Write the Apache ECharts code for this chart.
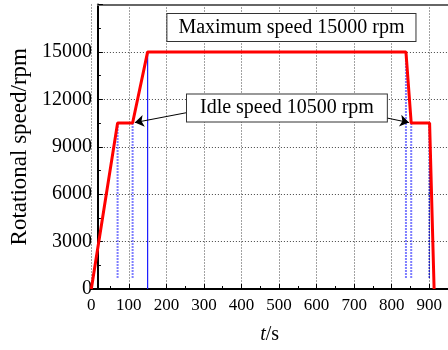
<!DOCTYPE html>
<html>
<head>
<meta charset="utf-8">
<script src="https://cdn.jsdelivr.net/npm/echarts@6/dist/echarts.min.js"></script>
<style>html,body{margin:0;padding:0;background:#fff}#c{width:448px;height:350px}</style>
</head>
<body>
<div id="c"></div>
<script>
// ---- data ----
const timeS = [0, 70, 110, 150, 838, 852, 901, 913];
const speedRpm = [0, 10500, 10500, 15000, 15000, 10500, 10500, 0];
// vertical guide lines
const guideTimes = [70, 110, 150, 838, 852, 900];
const guideLow = [700, 700, 0, 700, 700, 700];
const guideHigh = [10500, 10500, 15000, 15000, 10500, 10500];
const guideKinds = ['light', 'light', 'dark', 'light', 'light', 'dash'];
// annotations
const annotationTexts = ['Maximum speed 15000 rpm', 'Idle speed 10500 rpm'];
const annotationAnchors = [[533, 16540], [521, 11450]];
const arrowFrom = [[258, 11175], [784, 10835]];
const arrowTo = [[116, 10530], [846, 10530]];
// axes
const xMin = 0, xMax = 950, xStep = 100;
const yMin = 0, yMax = 18000, yStep = 3000;
const xTitle = '{i|t}/s';
const yTitle = 'Rotational speed/rpm';

const FONT = "'Liberation Serif', 'Times New Roman', serif";
const chart = echarts.init(document.getElementById('c'), null, {renderer: 'canvas'});

const guideStyles = {
  light: {color: 'rgba(40,40,255,0.6)', width: 2, type: [2, 1]},
  dark: {color: '#1a1aff', width: 1.2, type: 'solid'},
  dash: {color: '#0000bb', width: 1.2, type: [2, 1]}
};

const series = [];
guideTimes.forEach((t, i) => {
  series.push({
    type: 'line', xAxisIndex: 0, yAxisIndex: 0, symbol: 'none', silent: true,
    data: [[t, guideLow[i]], [t, guideHigh[i]]],
    lineStyle: guideStyles[guideKinds[i]], z: 3
  });
});
series.push({
  type: 'line', xAxisIndex: 0, yAxisIndex: 0, symbol: 'none',
  data: timeS.map((t, i) => [t, speedRpm[i]]),
  lineStyle: {color: '#ff0000', width: 3}, z: 5
});
series.push({
  type: 'scatter', xAxisIndex: 0, yAxisIndex: 0, data: [], z: 10, silent: true,
  markLine: {
    silent: true, symbol: ['none', 'arrow'], symbolSize: 9,
    lineStyle: {color: '#000', width: 1, type: 'solid'},
    label: {show: false}, z: 10,
    data: arrowFrom.map((f, i) => [{coord: f}, {coord: arrowTo[i]}])
  },
  markPoint: {
    silent: true, symbol: 'rect', symbolSize: 1, z: 11,
    itemStyle: {color: 'rgba(0,0,0,0)'},
    label: {
      show: true, position: 'inside', color: '#000', fontFamily: FONT, fontSize: 20,
      backgroundColor: '#fff', borderColor: '#333', borderWidth: 1, padding: [4, 11, 3, 11]
    },
    data: annotationTexts.map((txt, i) => ({coord: annotationAnchors[i], value: txt,
      label: {formatter: txt, padding: i === 0 ? [4, 11, 3, 11] : [4, 13, 3, 13]}}))
  }
});

const plain = v => String(v);

const option = {
  animation: false,
  backgroundColor: '#fff',
  grid: [
    {left: 91.3, top: 4.5, width: 359.3, height: 284.5, containLabel: false},
    {left: 83, top: 4.5, width: 367.6, height: 284.5, containLabel: false}
  ],
  xAxis: [
    {
      gridIndex: 0, type: 'value', min: xMin, max: xMax, interval: xStep,
      axisLine: {show: true, lineStyle: {color: '#000', width: 2}},
      axisTick: {show: true, inside: true, length: 5, lineStyle: {color: '#000', width: 1}},
      minorTick: {show: true, splitNumber: 2, length: 3, lineStyle: {color: '#000', width: 1}},
      axisLabel: {color: '#000', fontFamily: FONT, fontSize: 17, margin: 8, showMaxLabel: false, formatter: plain},
      splitLine: {show: true, lineStyle: {color: '#444', width: 1, type: [1, 2]}},
      name: xTitle, nameLocation: 'middle', nameGap: 36,
      nameTextStyle: {color: '#000', fontFamily: FONT, fontSize: 20,
        rich: {i: {fontStyle: 'italic', fontFamily: FONT, fontSize: 20, color: '#000'}}}
    },
    {
      gridIndex: 1, type: 'value', min: 0, max: 1, position: 'bottom',
      axisLine: {show: true, lineStyle: {color: '#000', width: 2}},
      axisTick: {show: false}, axisLabel: {show: false}, splitLine: {show: false}
    },
    {
      gridIndex: 1, type: 'value', min: 0, max: 1, position: 'top',
      axisLine: {show: true, lineStyle: {color: '#666', width: 2}},
      axisTick: {show: false}, axisLabel: {show: false}, splitLine: {show: false}
    }
  ],
  yAxis: [
    {
      gridIndex: 0, type: 'value', min: yMin, max: yMax, interval: yStep, show: false
    },
    {
      gridIndex: 1, type: 'value', min: yMin, max: yMax, interval: yStep,
      axisLine: {show: true, lineStyle: {color: '#000', width: 2}},
      axisTick: {show: true, inside: true, length: 5, lineStyle: {color: '#000', width: 1}},
      minorTick: {show: true, splitNumber: 2, length: 3, lineStyle: {color: '#000', width: 1}},
      axisLabel: {color: '#000', fontFamily: FONT, fontSize: 20, margin: 6, showMaxLabel: false, formatter: plain},
      splitLine: {show: true, lineStyle: {color: '#444', width: 1, type: [1, 2]}},
      name: yTitle, nameLocation: 'middle', nameGap: 55,
      nameTextStyle: {color: '#000', fontFamily: FONT, fontSize: 23}
    }
  ],
  series: series
};
chart.setOption(option);
</script>
</body>
</html>
